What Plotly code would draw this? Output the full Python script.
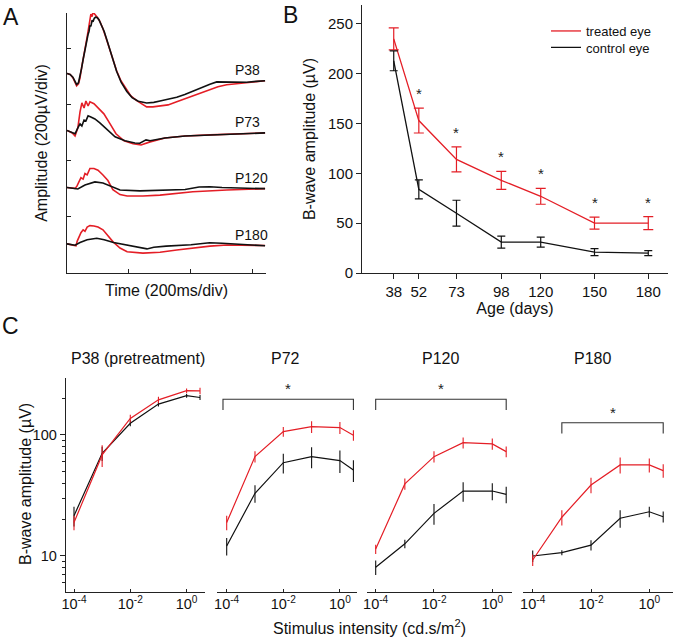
import math
import plotly.graph_objects as go

W, H = 675, 640
FONT = "Arial, Liberation Sans, sans-serif"
RED = "#e41e26"
BLK = "#111111"
AX = "#222222"

# ---------------- Panel A: ERG traces (time ms, amplitude uV rel. to baseline)
p38_red_t = [0, 10, 19, 31, 37, 42, 47, 52, 56, 61, 65, 68, 71, 74, 77, 81, 84, 89, 94, 100, 106, 116, 126, 139, 148, 160, 174, 193, 206, 225, 239, 257, 277, 300, 326, 354, 381, 406, 432, 461, 487, 515, 545, 580, 610, 639]
p38_red_v = [0, -3, -15, -44, -37, -15, 20, 56, 85, 106, 131, 152, 177, 196, 212, 203, 219, 212, 206, 197, 186, 160, 127, 81, 45, 10, -26, -58, -80, -97, -108, -119, -119, -115, -112, -101, -90, -80, -69, -58, -47, -40, -37, -33, -30, -26]
p38_blk_t = [0, 10, 19, 31, 37, 42, 47, 52, 56, 61, 65, 68, 71, 74, 77, 81, 84, 88, 92, 97, 103, 110, 120, 130, 140, 150, 160, 175, 193, 210, 230, 257, 280, 300, 330, 354, 380, 406, 432, 461, 483, 515, 545, 580, 610, 639]
p38_blk_v = [0, -3, -13, -39, -33, -12, 18, 50, 75, 98, 118, 140, 150, 172, 168, 190, 185, 197, 201, 200, 192, 175, 150, 115, 78, 42, 8, -32, -64, -86, -99, -105, -103, -98, -90, -85, -75, -63, -50, -38, -30, -30, -32, -31, -28, -26]

p73_red_t = [0, 17, 26, 35, 42, 48, 55, 61, 68, 74, 87, 100, 119, 139, 158, 184, 213, 239, 268, 316, 381, 461, 558, 639]
p73_red_v = [0, -9, -20, 9, 66, 98, 80, 105, 87, 102, 95, 80, 59, 23, -12, -37, -48, -52, -41, -27, -20, -16, -12, -9]
p73_blk_t = [0, 26, 35, 42, 48, 55, 61, 68, 77, 90, 106, 129, 155, 187, 219, 235, 255, 268, 316, 381, 461, 558, 639]
p73_blk_v = [0, -12, 9, 23, 16, 37, 34, 52, 48, 41, 27, 2, -23, -37, -45, -46, -34, -37, -27, -20, -16, -12, -9]

p120_red_t = [0, 26, 32, 39, 45, 52, 58, 65, 74, 87, 100, 116, 132, 148, 171, 194, 245, 300, 406, 516, 639]
p120_red_v = [0, -3, 5, 20, 35, 30, 50, 45, 68, 68, 62, 45, 25, -8, -25, -30, -30, -27, -15, -9, -4]
p120_blk_t = [0, 35, 58, 90, 116, 139, 171, 235, 300, 381, 426, 461, 500, 558, 639]
p120_blk_v = [0, -5, 9, 20, 16, 5, -9, -12, -9, -7, 2, 3, 0, -2, -4]

p180_red_t = [0, 29, 33, 39, 45, 52, 58, 65, 74, 87, 100, 116, 132, 148, 171, 194, 245, 300, 354, 406, 461, 516, 639]
p180_red_v = [0, -7, 10, 25, 40, 50, 45, 60, 65, 64, 60, 50, 30, 8, -15, -28, -33, -30, -22, -15, -8, -4, -6]
p180_blk_t = [0, 26, 42, 65, 96, 120, 150, 190, 230, 258, 280, 320, 400, 460, 500, 560, 639]
p180_blk_v = [0, -5, 5, 15, 20, 15, 5, -3, -10, -18, -12, -8, -3, 4, 2, -2, -7]

trace_labels = ["P38", "P73", "P120", "P180"]
trace_offsets = [712, 509, 305, 104]  # baseline of each stacked trace (uV)

# ---------------- Panel B: b-wave amplitude vs age
ages = [38, 52, 73, 98, 120, 150, 180]
treated_amp = [235, 153, 114, 93, 77, 50, 50]
treated_err = [11, 12.5, 12.5, 9, 8, 6, 6.5]
control_amp = [213, 84, 60, 31, 31, 21, 20]
control_err = [10, 9.5, 13, 6, 5, 3.5, 2.5]
significant_ages = [52, 73, 98, 120, 150, 180]

# ---------------- Panel C: intensity-response
intensity = [1e-4, 1e-3, 1e-2, 1e-1, 1, 3]
p38_treated = [18.9, 68.4, 137, 195, 232, 231]
p38_treated_err = [2.6, 14, 10, 12, 10, 14]
p38_control = [21.5, 70.5, 125, 180, 211, 204]
p38_control_err = [4, 9.5, 7, 8, 8, 10]
p72_treated = [18.9, 66.2, 106.5, 117, 115, 99.4]
p72_treated_err = [2.6, 7, 10, 13, 13, 10]
p72_control = [12.1, 33, 59, 66.2, 61.4, 51.4]
p72_control_err = [2, 5.5, 11, 13, 13, 10.5]
p120_treated = [11.4, 39.4, 66.2, 86.4, 84.3, 72.8]
p120_treated_err = [1, 4.2, 7, 9, 9, 7.5]
p120_control = [8.06, 12.6, 22.5, 34.4, 34.4, 32.3]
p120_control_err = [1.1, 1, 4.4, 6.3, 5.5, 5]
p180_treated = [9.27, 20.9, 38.6, 56.5, 56.5, 50.7]
p180_treated_err = [1, 3, 5.6, 8.5, 7.5, 6.5]
p180_control = [10, 10.65, 12.3, 20.5, 23.2, 21.1]
p180_control_err = [1.1, 0.5, 1.2, 3.4, 2.3, 2.2]
c_titles = ["P38 (pretreatment)", "P72", "P120", "P180"]
# significance brackets
bracket_sub = [1, 2, 3]
bracket_x0 = [7.4e-5, 1e-4, 1e-3]
bracket_x1 = [3, 3, 3]
bracket_ylo = [161, 161, 103]
bracket_yhi = [197, 197, 126]


def px(x):
    return x / W


def py(y):
    return 1 - y / H


fig = go.Figure()

# ---- Panel A
a_sets = [
    (p38_red_t, p38_red_v, p38_blk_t, p38_blk_v),
    (p73_red_t, p73_red_v, p73_blk_t, p73_blk_v),
    (p120_red_t, p120_red_v, p120_blk_t, p120_blk_v),
    (p180_red_t, p180_red_v, p180_blk_t, p180_blk_v),
]
for (rt, rv, bt, bv), off, lab in zip(a_sets, trace_offsets, trace_labels):
    fig.add_trace(go.Scatter(x=rt, y=[off + v for v in rv], mode="lines",
                             line=dict(color=RED, width=1.6), xaxis="x", yaxis="y",
                             showlegend=False, hoverinfo="skip"))
    fig.add_trace(go.Scatter(x=bt, y=[off + v for v in bv], mode="lines",
                             line=dict(color=BLK, width=1.6), xaxis="x", yaxis="y",
                             showlegend=False, hoverinfo="skip"))
    fig.add_annotation(x=535, y=off + bv[-1], xref="x", yref="y", text=lab,
                       showarrow=False, xanchor="left", yanchor="bottom", yshift=1,
                       font=dict(size=14, color="#111", family=FONT))

# ---- Panel B
fig.add_trace(go.Scatter(x=ages, y=treated_amp, mode="lines", name="treated eye",
                         line=dict(color=RED, width=1.3), legend="legend",
                         error_y=dict(type="data", array=treated_err, color=RED,
                                      thickness=1.2, width=5),
                         xaxis="x2", yaxis="y2"))
fig.add_trace(go.Scatter(x=ages, y=control_amp, mode="lines", name="control eye",
                         line=dict(color=BLK, width=1.3), legend="legend2",
                         error_y=dict(type="data", array=control_err, color=BLK,
                                      thickness=1.2, width=4),
                         xaxis="x2", yaxis="y2"))
for a in significant_ages:
    i = ages.index(a)
    fig.add_annotation(x=a, y=treated_amp[i] + treated_err[i], xref="x2", yref="y2",
                       text="*", showarrow=False, xanchor="center", yanchor="bottom", yshift=4,
                       font=dict(size=15, color="#222", family=FONT))

# ---- Panel C
c_sets = [
    (p38_treated, p38_treated_err, p38_control, p38_control_err),
    (p72_treated, p72_treated_err, p72_control, p72_control_err),
    (p120_treated, p120_treated_err, p120_control, p120_control_err),
    (p180_treated, p180_treated_err, p180_control, p180_control_err),
]
for k, (tv, te, cv, ce) in enumerate(c_sets):
    xa, ya = f"x{k+3}", f"y{k+3}"
    fig.add_trace(go.Scatter(x=intensity, y=cv, mode="lines",
                             line=dict(color=BLK, width=1.2),
                             error_y=dict(type="data", array=ce, color=BLK, thickness=1.1, width=0),
                             xaxis=xa, yaxis=ya, showlegend=False))
    fig.add_trace(go.Scatter(x=intensity, y=tv, mode="lines",
                             line=dict(color=RED, width=1.2),
                             error_y=dict(type="data", array=te, color=RED, thickness=1.1, width=0),
                             xaxis=xa, yaxis=ya, showlegend=False))

for s, x0, x1, ylo, yhi in zip(bracket_sub, bracket_x0, bracket_x1, bracket_ylo, bracket_yhi):
    xa, ya = f"x{s+3}", f"y{s+3}"
    fig.add_trace(go.Scatter(x=[x0, x0, x1, x1], y=[ylo, yhi, yhi, ylo], mode="lines",
                             line=dict(color="#333", width=1.1), xaxis=xa, yaxis=ya,
                             showlegend=False, hoverinfo="skip"))
    xm = (math.log10(x0) + math.log10(x1)) / 2
    fig.add_annotation(x=xm, y=math.log10(yhi), xref=xa, yref=ya, text="*",
                       showarrow=False, xanchor="center", yanchor="bottom", yshift=0,
                       font=dict(size=15, color="#222", family=FONT))

# ---------------- Layout
tickfont = dict(size=15, color="#111", family=FONT)
titlefont = dict(size=16, color="#111", family=FONT)
common = dict(showgrid=False, zeroline=False, showline=True, linecolor=AX, linewidth=1,
              tickcolor=AX, tickwidth=1, automargin=False)
legfont = dict(size=13, color="#111", family=FONT)

layout = dict(
    template="none",
    width=W, height=H, margin=dict(l=0, r=0, t=0, b=0, pad=0, autoexpand=False),
    paper_bgcolor="white", plot_bgcolor="white",
    font=dict(family=FONT, color="#111"),
    showlegend=True,
    legend=dict(x=px(546), y=py(31), xanchor="left", yanchor="middle", font=legfont,
                bgcolor="rgba(0,0,0,0)", borderwidth=0, itemwidth=30),
    legend2=dict(x=px(546), y=py(47.5), xanchor="left", yanchor="middle", font=legfont,
                 bgcolor="rgba(0,0,0,0)", borderwidth=0, itemwidth=30),
    xaxis=dict(domain=[px(67), px(266)], range=[0, 642], anchor="y",
               tickmode="array", tickvals=[0, 200, 400, 600], ticks="inside", ticklen=4,
               showticklabels=False,
               title=dict(text="Time (200ms/div)", font=titlefont, standoff=11), **common),
    yaxis=dict(domain=[py(273), py(13)], range=[0, 928], anchor="x",
               tickmode="array", tickvals=[200, 400, 600, 800], ticks="inside", ticklen=4,
               showticklabels=False,
               title=dict(text="Amplitude (200µV/div)", font=titlefont, standoff=14), **common),
    xaxis2=dict(domain=[px(362), px(668)], range=[20.3, 191], anchor="y2",
                tickmode="array", tickvals=ages, ticks="outside", ticklen=5,
                tickfont=tickfont,
                title=dict(text="Age (days)", font=titlefont, standoff=3), **common),
    yaxis2=dict(domain=[py(273), py(5)], range=[0, 269], anchor="x2",
                tickmode="array", tickvals=[0, 50, 100, 150, 200, 250], ticks="outside", ticklen=5,
                tickfont=tickfont,
                title=dict(text="B-wave amplitude (µV)", font=titlefont, standoff=8), **common),
)

c_dom = [(65.7, 205), (216.7, 357), (367, 512), (522.7, 673)]
c_rng = [(-4.295, 0.654), (-4.353, 0.604), (-4.298, 0.676), (-4.343, 0.813)]
c_tfont = dict(size=14.5, color="#111", family=FONT)
for k in range(4):
    layout[f"xaxis{k+3}"] = dict(
        type="log", domain=[px(c_dom[k][0]), px(c_dom[k][1])], range=list(c_rng[k]),
        anchor=f"y{k+3}", tickmode="array", tickvals=[1e-4, 1e-2, 1],
        ticktext=["10<sup>-4</sup>", "10<sup>-2</sup>", "10<sup>0</sup>"],
        ticks="inside", ticklen=3, tickfont=c_tfont, ticklabelstandoff=-2, **common)
    ydict = dict(type="log", domain=[py(592.3), py(377.7)], range=[0.7, 2.473],
                 anchor=f"x{k+3}")
    if k == 0:
        ydict.update(dict(tickmode="array", tickvals=[10, 100], ticktext=["10", "100"],
                          ticks="outside", ticklen=5, tickfont=c_tfont,
                          minor=dict(tickmode="array",
                                     tickvals=[6, 7, 8, 9, 20, 30, 40, 50, 60, 70, 80, 90, 200],
                                     ticks="outside", ticklen=2.5, tickcolor=AX),
                          **common))
    else:
        ydict.update(dict(visible=False, showgrid=False, zeroline=False, automargin=False))
    layout[f"yaxis{k+3}"] = ydict

fig.update_layout(**layout)

# panel letters, panel C titles, shared axis titles of panel C
for txt, x, y in [("A", 11, 17), ("B", 290, 15), ("C", 11, 326)]:
    fig.add_annotation(x=px(x), y=py(y), xref="paper", yref="paper", text=txt,
                       showarrow=False, xanchor="center", yanchor="middle",
                       font=dict(size=23, color="#111", family=FONT))
c_title_x = [137.5, 285, 440, 592]
for t, x in zip(c_titles, c_title_x):
    fig.add_annotation(x=px(x), y=py(358), xref="paper", yref="paper", text=t,
                       showarrow=False, xanchor="center", yanchor="middle",
                       font=dict(size=16, color="#111", family=FONT))
fig.add_annotation(x=px(369), y=py(627), xref="paper", yref="paper",
                   text="Stimulus intensity (cd.s/m<sup>2</sup>)", showarrow=False,
                   xanchor="center", yanchor="middle",
                   font=dict(size=16, color="#111", family=FONT))
fig.add_annotation(x=px(25), y=py(484), xref="paper", yref="paper",
                   text="B-wave amplitude (µV)", showarrow=False, textangle=-90,
                   xanchor="center", yanchor="middle",
                   font=dict(size=16, color="#111", family=FONT))

fig.write_html("out.html", config={"displayModeBar": False},
               post_script="document.body.style.margin='0';document.body.style.padding='0';")
